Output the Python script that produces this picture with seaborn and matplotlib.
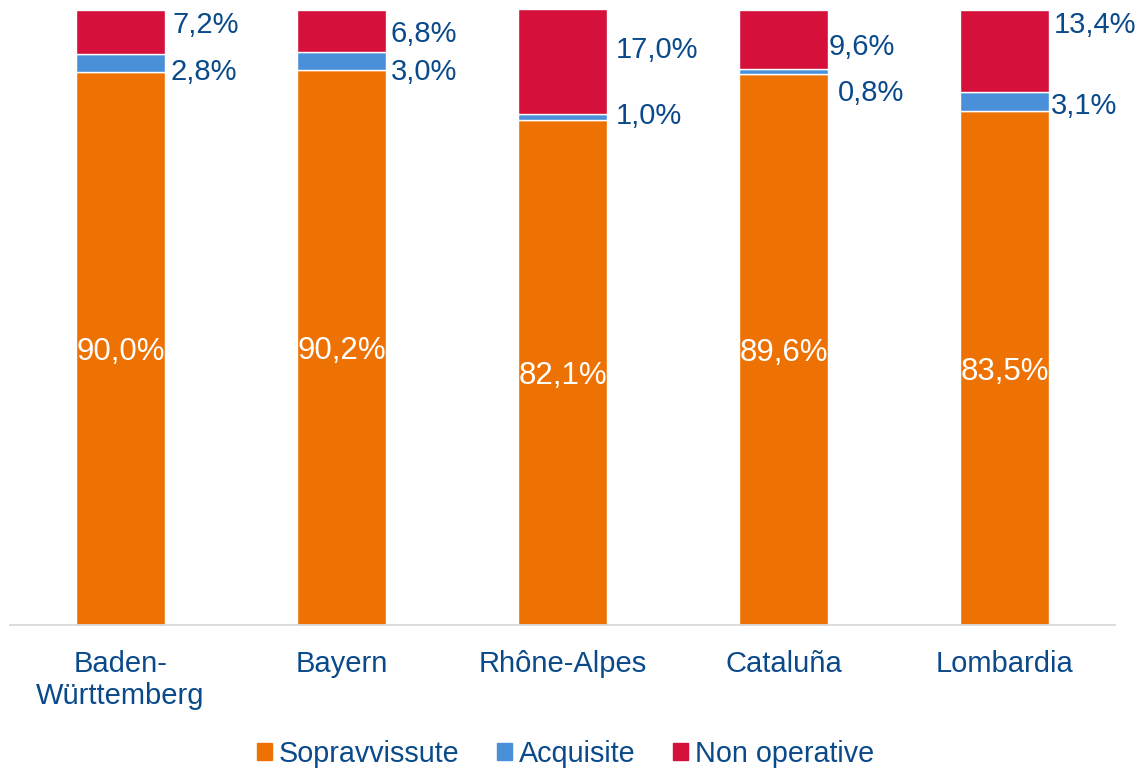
import matplotlib
matplotlib.use('Agg')
import matplotlib.pyplot as plt
import seaborn as sns
import numpy as np
import pandas as pd
from matplotlib.patches import Patch

# ---- data ----
regions = ['Baden-\nWürttemberg', 'Bayern', 'Rhône-Alpes', 'Cataluña', 'Lombardia']
sopravvissute = [90.0, 90.2, 82.1, 89.6, 83.5]
acquisite = [2.8, 3.0, 1.0, 0.8, 3.1]
non_operative = [7.2, 6.8, 17.0, 9.6, 13.4]

# label placement (tuned by eye): y in chart units, x gap in pixels
acq_label_y = [90.4, 90.4, 83.25, 87.0, 84.9]
nonop_label_y = [98.0, 96.6, 94.0, 94.5, 98.05]
acq_gap_px = [6, 5, 9, 10, 2]
nonop_gap_px = [8, 5, 9, 1, 5]

c_orange = '#EE7203'
c_blue = '#4A90D9'
c_red = '#D4103B'
c_text = '#0B4A8A'

sns.set_theme(style='white')
plt.rcParams['font.family'] = ['Liberation Sans', 'DejaVu Sans']

df = pd.DataFrame({'region': regions, 'sop': sopravvissute,
                   'acq': acquisite, 'non': non_operative})
bottom_acq = df['sop'].values
bottom_non = df['sop'].values + df['acq'].values

fig = plt.figure(figsize=(11.38, 7.68), dpi=100)
ax = fig.add_axes([10 / 1138, 143 / 768, 1105 / 1138, 615 / 768])
px = 5 / 1105  # data units per pixel along x

sns.barplot(data=df, x='region', y='sop', color=c_orange, width=0.4,
            saturation=1, ax=ax)
sns.barplot(data=df, x='region', y='acq', color=c_blue, width=0.4,
            saturation=1, bottom=bottom_acq, ax=ax)
sns.barplot(data=df, x='region', y='non', color=c_red, width=0.4,
            saturation=1, bottom=bottom_non, ax=ax)

ax.set_xlim(-0.5, 4.5)
ax.set_ylim(0, 100)
ax.set_xlabel('')
ax.set_ylabel('')
ax.set_yticks([])
for s in ['top', 'right', 'left']:
    ax.spines[s].set_visible(False)
ax.spines['bottom'].set_color('#D9D9D9')
ax.spines['bottom'].set_linewidth(1.3)
ax.tick_params(axis='x', length=0, pad=18, labelsize=21, labelcolor=c_text)
for t in ax.get_xticklabels():
    t.set_linespacing(1.2)


def fmt(v):
    return f'{v:.1f}'.replace('.', ',') + '%'


for i in range(len(regions)):
    ax.text(i, sopravvissute[i] / 2, fmt(sopravvissute[i]), color='white',
            ha='center', va='center_baseline', fontsize=22.5)
    ax.text(i + 0.2 + acq_gap_px[i] * px, acq_label_y[i], fmt(acquisite[i]),
            color=c_text, ha='left', va='center_baseline', fontsize=21)
    ax.text(i + 0.2 + nonop_gap_px[i] * px, nonop_label_y[i], fmt(non_operative[i]),
            color=c_text, ha='left', va='center_baseline', fontsize=21)

handles = [Patch(color=c_orange, label='Sopravvissute'),
           Patch(color=c_blue, label='Acquisite'),
           Patch(color=c_red, label='Non operative')]
fig.legend(handles=handles, loc='center', bbox_to_anchor=(0.497, 1 - 754 / 768),
           ncol=3, frameon=False, fontsize=20.7, labelcolor=c_text,
           handlelength=0.52, handleheight=0.52, handletextpad=0.25,
           columnspacing=1.3)

fig.savefig('out.png', dpi=100)
